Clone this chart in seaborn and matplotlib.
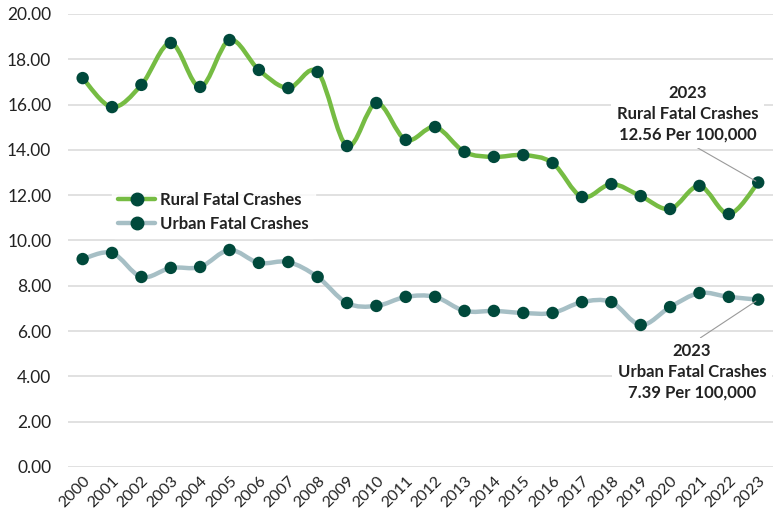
import numpy as np
import pandas as pd
import seaborn as sns
import matplotlib.pyplot as plt
from matplotlib.path import Path
from matplotlib.patches import PathPatch
from matplotlib.lines import Line2D

# data (rate per 100,000)
years = [str(y) for y in range(2000, 2024)]
rural = [17.17, 15.89, 16.87, 18.72, 16.78, 18.85, 17.53, 16.73, 17.44, 14.17,
         16.07, 14.44, 15.01, 13.91, 13.69, 13.77, 13.42, 11.92, 12.49, 11.96,
         11.39, 12.41, 11.17, 12.56]
urban = [9.18, 9.45, 8.39, 8.79, 8.83, 9.58, 9.01, 9.05, 8.39, 7.24,
         7.11, 7.51, 7.51, 6.89, 6.89, 6.80, 6.80, 7.28, 7.28, 6.27,
         7.06, 7.68, 7.51, 7.39]
series_names = ['Rural Fatal Crashes', 'Urban Fatal Crashes']
line_colors = ['#76bc43', '#a6bfc5']
marker_color = '#00493b'

df = pd.DataFrame({'Year': years, series_names[0]: rural, series_names[1]: urban})
long_df = df.melt(id_vars='Year', var_name='Series', value_name='Rate')
long_df['pos'] = long_df['Year'].map({y: i for i, y in enumerate(years)})

sns.set_style('white')
plt.rcParams['font.family'] = ['Lato', 'DejaVu Sans']

fig = plt.figure(figsize=(7.76, 5.18), dpi=100)
ax = fig.add_axes([0.0876, 0.0985, 0.9084, 0.8745])


def smooth_path(xs, ys):
    # Excel-style smoothed line: cubic bezier segments through each point
    pts = np.column_stack([xs, ys]).astype(float)
    n = len(pts)
    verts = [pts[0]]
    codes = [Path.MOVETO]
    for i in range(n - 1):
        p0 = pts[i - 1] if i > 0 else pts[i]
        p1, p2 = pts[i], pts[i + 1]
        p3 = pts[i + 2] if i + 2 < n else pts[i + 1]
        c1 = p1 + (p2 - p0) / 6.0
        c2 = p2 - (p3 - p1) / 6.0
        verts += [c1, c2, p2]
        codes += [Path.CURVE4] * 3
    return Path(verts, codes)


for name, col in zip(series_names, line_colors):
    sub = long_df[long_df['Series'] == name]
    ax.add_patch(PathPatch(smooth_path(sub['pos'], sub['Rate']), facecolor='none',
                           edgecolor=col, lw=3.2, zorder=2, capstyle='round'))

sns.scatterplot(data=long_df, x='pos', y='Rate', color=marker_color, s=80,
                edgecolor='none', zorder=3, legend=False, ax=ax)

ax.set_xlim(-0.5, 23.5)
ax.set_ylim(0, 20)
ax.set_yticks(np.arange(0, 21, 2))
ax.set_yticklabels([f'{v:.2f}' for v in np.arange(0, 21, 2)], fontsize=12.5, color='#222222')
ax.set_xticks(range(len(years)))
ax.set_xticklabels(years, rotation=45, ha='right', rotation_mode='anchor',
                   fontsize=11.5, color='#222222')
ax.tick_params(axis='y', length=0, pad=12)
ax.tick_params(axis='x', length=0, pad=5)
ax.grid(axis='y', color='#dcdcdc', lw=1.2, zorder=0)
ax.set_axisbelow(True)
for s in ax.spines.values():
    s.set_visible(False)
ax.set_xlabel('')
ax.set_ylabel('')

handles = [Line2D([], [], color=c, lw=3.2, marker='o', markersize=9,
                  markerfacecolor=marker_color, markeredgecolor=marker_color)
           for c in line_colors]
leg = ax.legend(handles, series_names, loc='upper left', bbox_to_anchor=(0.05, 0.64),
                frameon=True, fontsize=12, handlelength=2.2, labelspacing=0.45,
                handletextpad=0.3, borderpad=0.4)
leg.get_frame().set_facecolor('white')
leg.get_frame().set_edgecolor('white')
for t in leg.get_texts():
    t.set_color('#222222')
    t.set_fontweight('bold')

box = dict(facecolor='white', edgecolor='none', pad=4)
ax.annotate('2023\nRural Fatal Crashes\n12.56 Per 100,000', xy=(23, rural[-1]),
            xytext=(20.6, 15.6), ha='center', va='center', fontsize=12,
            fontweight='bold', color='#222222', linespacing=1.35, bbox=box,
            arrowprops=dict(arrowstyle='-', color='#9a9a9a', lw=0.8,
                            shrinkA=0, shrinkB=2, relpos=(0.5, 0.0)), zorder=4)
ax.annotate('2023\nUrban Fatal Crashes\n7.39 Per 100,000', xy=(23, urban[-1]),
            xytext=(20.75, 4.2), ha='center', va='center', fontsize=12,
            fontweight='bold', color='#222222', linespacing=1.35, bbox=box,
            arrowprops=dict(arrowstyle='-', color='#9a9a9a', lw=0.8,
                            shrinkA=0, shrinkB=2, relpos=(0.5, 1.0)), zorder=4)

fig.savefig('out.png', dpi=100)
